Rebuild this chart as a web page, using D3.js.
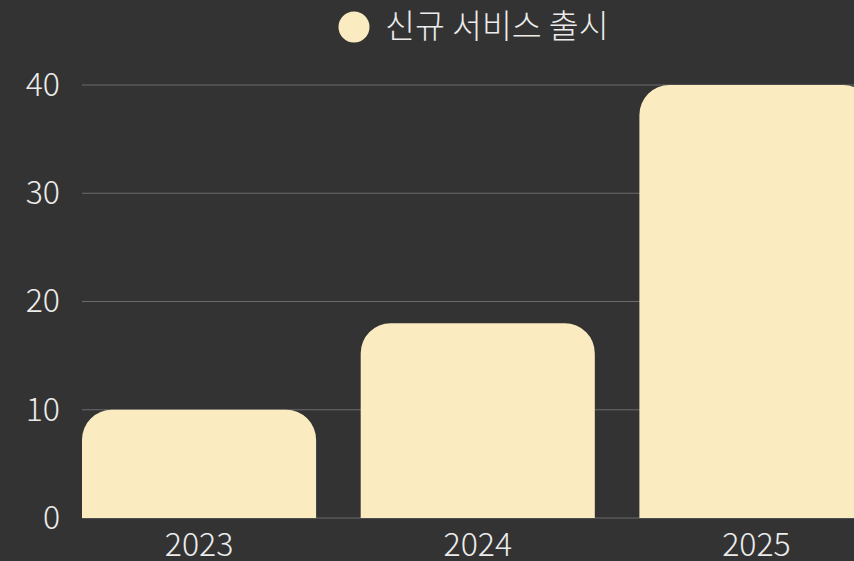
<!DOCTYPE html>
<html>
<head>
<meta charset="utf-8">
<script src="https://cdn.jsdelivr.net/npm/d3@7"></script>
<style>
  html, body { margin: 0; padding: 0; background: #333333; overflow: hidden; }
  svg { display: block; }
</style>
</head>
<body>
<div id="chart"></div>
<script>
const years = ['2023', '2024', '2025'];
const launches = [10, 18, 40];
const yTicks = [0, 10, 20, 30, 40];
const seriesName = '신규 서비스 출시';

const W = 854, H = 561;
const FONT = "'Noto Sans CJK KR', 'Noto Sans', sans-serif";
const BAR = '#faebc0';
const TEXT = '#ececec';

const svg = d3.select('#chart').append('svg')
  .attr('width', W).attr('height', H);

const x = d3.scaleBand().domain(years).range([82, 873.5])
  .paddingInner(0.16).paddingOuter(0);
const y = d3.scaleLinear().domain([0, 40]).range([518, 85]);

// Grid lines
svg.append('g').selectAll('line')
  .data(yTicks)
  .enter().append('line')
  .attr('x1', 82).attr('x2', W)
  .attr('y1', d => y(d)).attr('y2', d => y(d))
  .attr('stroke', '#6b6b6b').attr('stroke-width', 1.2);

// Y axis labels
const yAxis = svg.append('g')
  .attr('transform', 'translate(82,0)')
  .call(d3.axisLeft(y).tickValues(yTicks).tickSize(0).tickPadding(22));
yAxis.select('.domain').remove();
yAxis.selectAll('text')
  .attr('fill', TEXT).attr('font-family', FONT)
  .attr('font-weight', 300).attr('font-size', '32px');

// Bars with rounded top corners
const r = 30;
function barPath(d, i) {
  const x0 = x(years[i]), w = x.bandwidth();
  const y0 = y(d), yb = y(0);
  const rr = Math.min(r, (yb - y0), w / 2);
  return `M${x0},${yb}V${y0 + rr}A${rr},${rr} 0 0 1 ${x0 + rr},${y0}` +
    `H${x0 + w - rr}A${rr},${rr} 0 0 1 ${x0 + w},${y0 + rr}V${yb}Z`;
}
svg.append('g').selectAll('path')
  .data(launches)
  .enter().append('path')
  .attr('d', barPath)
  .attr('fill', BAR);

// X axis labels
const xAxis = svg.append('g')
  .attr('transform', 'translate(0,518)')
  .call(d3.axisBottom(x).tickSize(0).tickPadding(15));
xAxis.select('.domain').remove();
xAxis.selectAll('text')
  .attr('fill', TEXT).attr('font-family', FONT)
  .attr('font-weight', 300).attr('font-size', '32px');

// Legend
const legend = svg.append('g').attr('transform', 'translate(354,27)');
legend.append('circle').attr('r', 15.5).attr('fill', BAR);
legend.append('text')
  .attr('x', 31).attr('y', 0).attr('dy', '0.35em')
  .attr('fill', TEXT).attr('font-family', FONT)
  .attr('font-weight', 300).attr('font-size', '32.5px')
  .text(seriesName);
</script>
</body>
</html>
